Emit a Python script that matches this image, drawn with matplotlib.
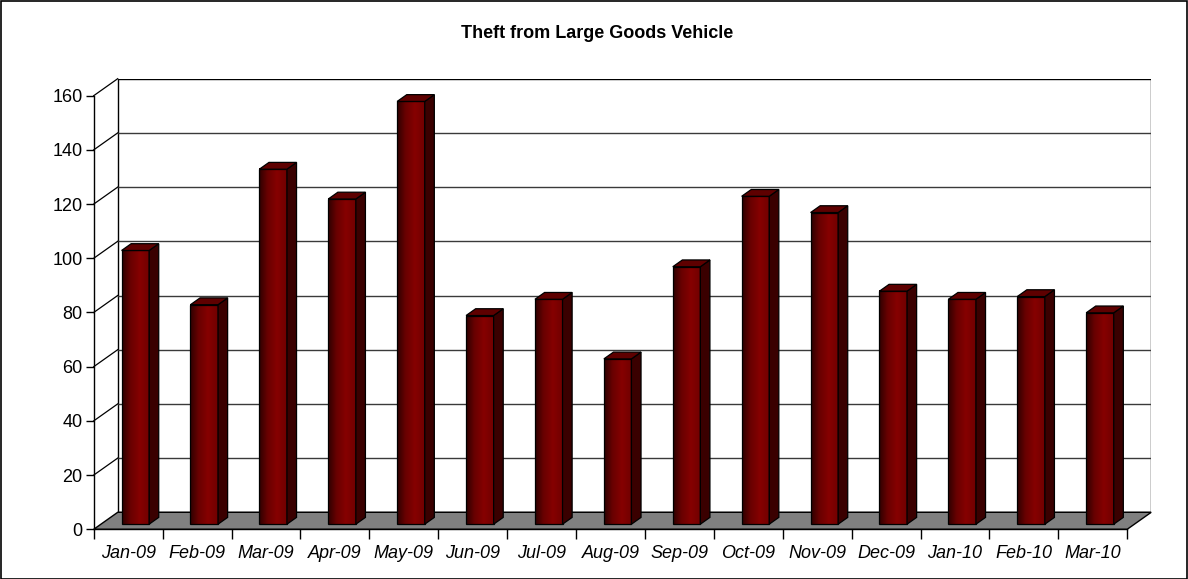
import numpy as np
import matplotlib
matplotlib.use('Agg')
import matplotlib.pyplot as plt
from matplotlib.patches import Polygon, Rectangle
from matplotlib.colors import LinearSegmentedColormap

# ---- data ----
months = ['Jan-09', 'Feb-09', 'Mar-09', 'Apr-09', 'May-09', 'Jun-09', 'Jul-09',
          'Aug-09', 'Sep-09', 'Oct-09', 'Nov-09', 'Dec-09', 'Jan-10', 'Feb-10', 'Mar-10']
values = [101, 81, 131, 120, 156, 77, 83, 61, 95, 121, 115, 86, 83, 84, 78]
yticks = [0, 20, 40, 60, 80, 100, 120, 140, 160]
title = 'Theft from Large Goods Vehicle'

plt.rcParams['font.family'] = ['Liberation Sans', 'DejaVu Sans']

W, H = 1188, 579
fig = plt.figure(figsize=(W / 100, H / 100), dpi=100)

n = len(months)
ymax = yticks[-1]
px_cat = 68.9
px_val = 2.71
DX = 24 / px_cat      # depth offset in category units
DY = 17 / px_val      # depth offset in value units
left_px, front_px = 93.7, 529.3
ax_w = px_cat * (n + DX)
ax_h = px_val * (ymax + DY)
ax = fig.add_axes([left_px / W, (H - front_px) / H, ax_w / W, ax_h / H])
ax.set_facecolor('none')

# back wall
ax.add_patch(Polygon([(DX, DY), (n + DX, DY), (n + DX, ymax + DY), (DX, ymax + DY)],
                     closed=True, facecolor='white', edgecolor='black', lw=1.0, zorder=1))
for yt in yticks[1:-1]:
    ax.plot([DX, n + DX], [yt + DY, yt + DY], color='#3a3a3a', lw=1.0, zorder=1.2)
# left side wall diagonals
for yt in yticks[1:]:
    ax.plot([0, DX], [yt, yt + DY], color='black', lw=0.9, zorder=1.2, clip_on=False)

# floor
ax.add_patch(Polygon([(0, 0), (n, 0), (n + DX, DY), (DX, DY)], closed=True,
                     facecolor='#808080', edgecolor='black', lw=1.0, zorder=2, clip_on=False))

# bars
cmap = LinearSegmentedColormap.from_list('bar', [(0.0, '#2e0000'), (0.3, '#680000'),
                                                 (0.65, '#860000'), (1.0, '#700000')])
grad = np.linspace(0, 1, 64).reshape(1, -1)
f1, f2 = 0.3, 0.7
bw = 0.4
for i, v in enumerate(values):
    x0 = i + 0.5 - bw / 2 + f1 * DX
    x1 = x0 + bw
    yb = f1 * DY
    yt = v + f1 * DY
    ddx = (f2 - f1) * DX
    ddy = (f2 - f1) * DY
    ax.imshow(grad, cmap=cmap, extent=(x0, x1, yb, yt), aspect='auto',
              interpolation='bilinear', zorder=3)
    ax.add_patch(Rectangle((x0, yb), bw, v, fill=False, edgecolor='black', lw=0.9, zorder=4))
    ax.add_patch(Polygon([(x1, yb), (x1, yt), (x1 + ddx, yt + ddy), (x1 + ddx, yb + ddy)],
                         closed=True, facecolor='#3a0000', edgecolor='black', lw=0.9, zorder=4))
    ax.add_patch(Polygon([(x0, yt), (x1, yt), (x1 + ddx, yt + ddy), (x0 + ddx, yt + ddy)],
                         closed=True, facecolor='#5e0000', edgecolor='black', lw=0.9, zorder=4))

ax.set_xlim(0, n + DX)
ax.set_ylim(0, ymax + DY)

for s in ['top', 'right']:
    ax.spines[s].set_visible(False)
ax.spines['left'].set_bounds(0, ymax)
ax.spines['bottom'].set_bounds(0, n)
ax.spines['left'].set_zorder(5)
ax.spines['bottom'].set_zorder(5)
ax.spines['left'].set_linewidth(1.0)
ax.spines['bottom'].set_linewidth(1.0)

ax.set_yticks(yticks)
ax.set_yticklabels([str(t) for t in yticks], fontsize=13)
ax.tick_params(axis='y', length=6, width=1.0, pad=2)

ax.set_xticks(np.arange(n + 1))
ax.set_xticklabels([''] * (n + 1))
ax.set_xticks(np.arange(n) + 0.5, minor=True)
ax.set_xticklabels(months, minor=True, fontsize=13, style='italic')
ax.tick_params(axis='x', which='major', length=7, width=1.0)
ax.tick_params(axis='x', which='minor', length=0, pad=11)

fig.text(0.503, 1 - 33 / H, title, ha='center', va='center', fontsize=13, fontweight='bold')

fig.patches.append(Rectangle((0.5 / W, 0.5 / H), 1 - 1.5 / W, 1 - 1.5 / H, transform=fig.transFigure,
                             fill=False, edgecolor='black', lw=1.2))

fig.savefig('out.png', dpi=100, facecolor='white')
